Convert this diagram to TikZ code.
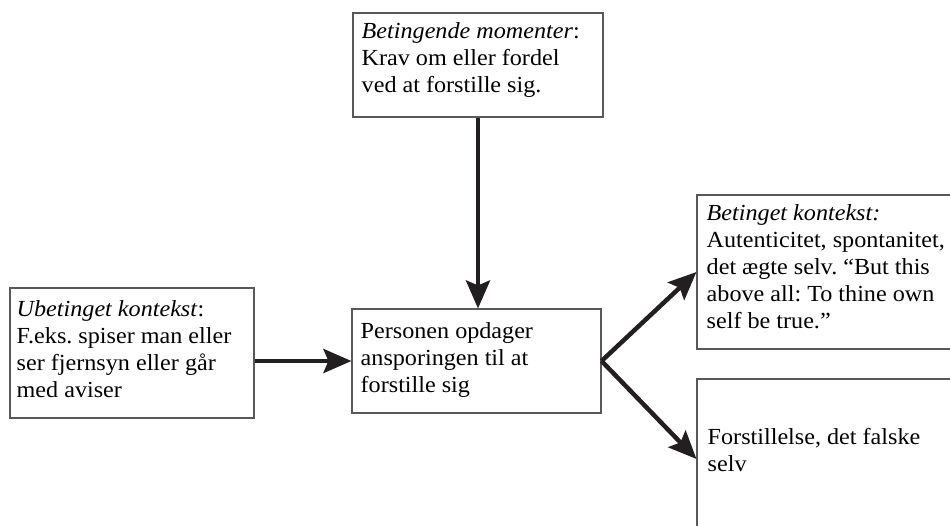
\documentclass[tikz,border=0pt]{standalone}
\usepackage{fontspec}
\setmainfont[FakeStretch=1.05]{Liberation Serif}
\usetikzlibrary{positioning, arrows.meta}
\definecolor{ink}{HTML}{231F20}
\frenchspacing

\begin{document}
\begin{tikzpicture}
        [x=1pt, y=-1pt,
         box/.style={rectangle, draw=black!65, line width=1.1pt, inner sep=0pt},
         txt/.style={anchor=north west, align=left, inner sep=0pt, font=\fontsize{23}{27}\selectfont},
         line width=4.5pt, draw=ink, >={Stealth[length=28pt, width=24pt, inset=5pt]}]
        \useasboundingbox (0,0) rectangle (950,525);
        \clip (0,0) rectangle (950,525);

        \node[box, minimum width=250pt, minimum height=104pt] (moment) at (478,65) {};
        \node[box, minimum width=244pt, minimum height=130pt] (ubet) at (132,353) {};
        \node[box, minimum width=249pt, minimum height=104pt] (person) at (476.5,361) {};
        \node[box, minimum width=280pt, minimum height=154pt] (bet) at (837,272) {};
        \node[box, minimum width=280pt, minimum height=160pt] (falsk) at (837,459) {};

        \node[txt] (momentT) at ([xshift=7pt, yshift=-7.5pt]moment.north west)
            {\textit{Betingende momenter}:\\Krav om eller fordel\\ved at forstille sig.};
        \node[txt] (ubetT) at ([xshift=5pt, yshift=-11pt]ubet.north west)
            {\textit{Ubetinget kontekst}:\\F.eks. spiser man eller\\ser fjernsyn eller går\\med aviser};
        \node[txt] (personT) at ([xshift=7pt, yshift=-11.5pt]person.north west)
            {Personen opdager\\ansporingen til at\\forstille sig};
        \node[txt] (betT) at ([xshift=8pt, yshift=-7.5pt]bet.north west)
            {\textit{Betinget kontekst:}\\Autenticitet, spontanitet,\\det ægte selv. “But this\\above all: To thine own\\self be true.”};
        \node[txt] (falskT) at ([xshift=9pt, yshift=-48pt]falsk.north west)
            {Forstillelse, det falske\\selv};

        \path [->] (moment.south) edge (moment.south |- person.north);
        \path [->] (ubet.east |- person.west) edge (person.west);
        \path [->] (person.east) edge (bet.west);
        \path [->] (person.east) edge (falsk.west);
\end{tikzpicture}
\end{document}
